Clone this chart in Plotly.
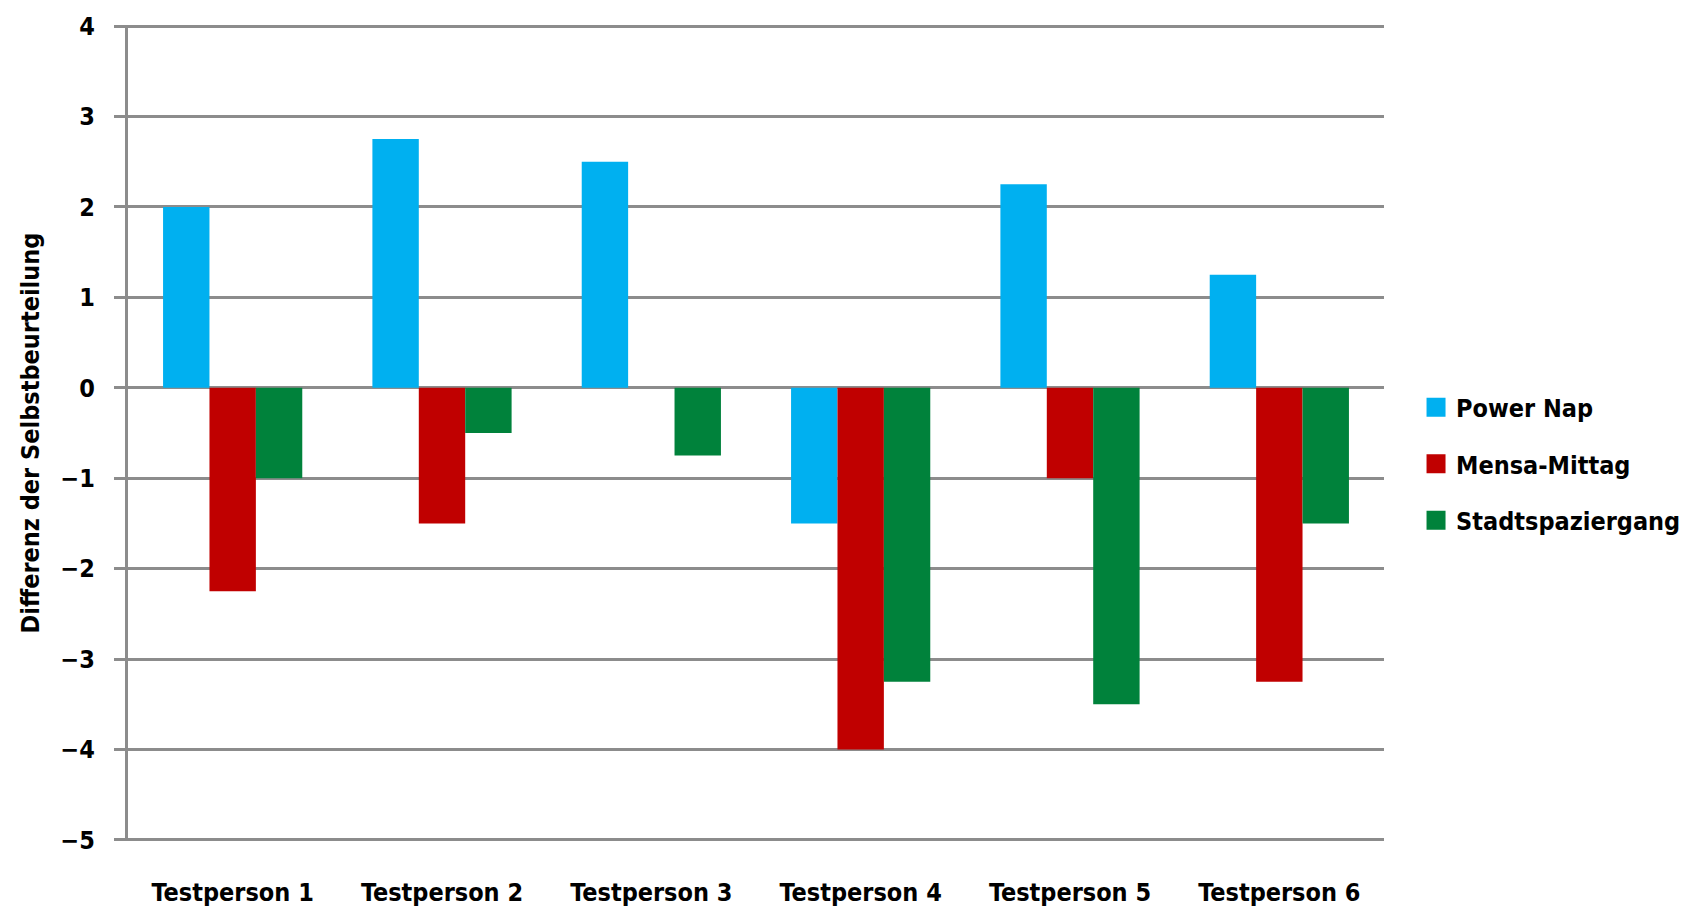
import plotly.graph_objects as go

categories = ["Testperson 1", "Testperson 2", "Testperson 3", "Testperson 4", "Testperson 5", "Testperson 6"]
power_nap = [2.0, 2.75, 2.5, -1.5, 2.25, 1.25]
mensa_mittag = [-2.25, -1.5, 0.0, -4.0, -1.0, -3.25]
stadtspaziergang = [-1.0, -0.5, -0.75, -3.25, -3.5, -1.5]
y_ticks = [4, 3, 2, 1, 0, -1, -2, -3, -4, -5]
y_ticktext = ["4", "3", "2", "1", "0", "\u22121", "\u22122", "\u22123", "\u22124", "\u22125"]

FONT = "Liberation Sans Narrow, DejaVu Sans Condensed, Arial Narrow, sans-serif"
GRID = "#8c8c8c"

fig = go.Figure()
series = [("Power Nap", power_nap, "#00B0F0"),
          ("Mensa-Mittag", mensa_mittag, "#C00000"),
          ("Stadtspaziergang", stadtspaziergang, "#00823B")]
for name, vals, col in series:
    fig.add_trace(go.Bar(x=categories, y=vals, name=name, marker=dict(color=col, line=dict(width=0)),
                         legendgroup=name, showlegend=False))
    # legend entry with a larger square swatch
    fig.add_trace(go.Scatter(x=[None], y=[None], mode="markers", name=name, legendgroup=name,
                             marker=dict(symbol="square", size=16, color=col,
                                         line=dict(width=3, color=col))))

fig.update_layout(
    width=1693, height=907,
    margin=dict(l=128, r=309, t=25, b=66, autoexpand=False),
    paper_bgcolor="white", plot_bgcolor="white",
    barmode="group", bargap=0.335, bargroupgap=0,
    font=dict(family=FONT, size=24, color="black"),
    legend=dict(x=1.0255, xanchor="left", y=0.462, yanchor="middle",
                font=dict(family=FONT, size=25, color="black", weight="bold"),
                tracegroupgap=21, bgcolor="rgba(0,0,0,0)", itemwidth=30),
    xaxis=dict(showgrid=False, showline=False, zeroline=False, ticks="", automargin=False,
               tickfont=dict(family=FONT, size=25, weight="bold"),
               ticklabelstandoff=34),
    yaxis=dict(range=[-5.012, 4.012], tickvals=y_ticks, ticktext=y_ticktext, automargin=False,
               showgrid=True, gridcolor=GRID, gridwidth=3,
               zeroline=False, showline=True, linecolor=GRID, linewidth=3,
               ticks="outside", ticklen=11, tickcolor=GRID, tickwidth=3,
               tickfont=dict(family=FONT, size=25, weight="bold"),
               ticklabelstandoff=14,
               title=dict(text="Differenz der Selbstbeurteilung",
                          font=dict(family=FONT, size=25, weight="bold"), standoff=14)),
)

fig.write_html("out.html", config={"displayModeBar": False},
               post_script="document.body.style.margin='0';document.body.style.overflow='hidden';")
